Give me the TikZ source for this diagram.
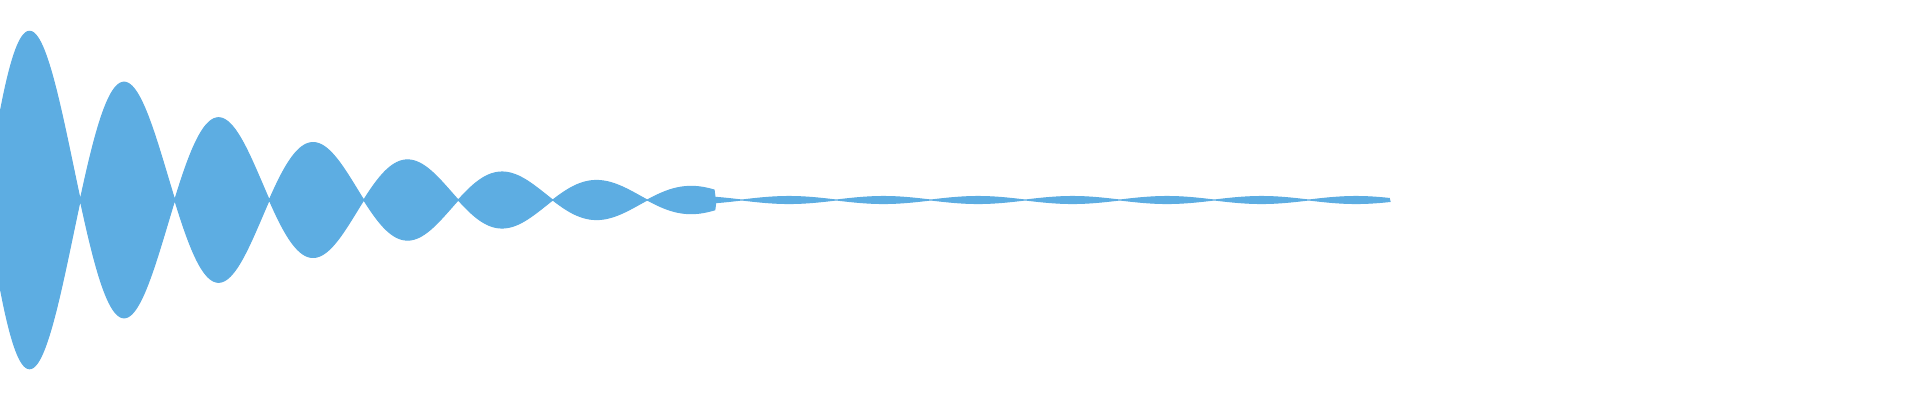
\documentclass[tikz,border=0pt]{standalone}
\usepackage{tikz}
\usetikzlibrary{calc}
\definecolor{wavecol}{RGB}{93,173,226}

\begin{document}
\begin{tikzpicture}[x=1cm, y=1cm,
    wave/.style={fill=wavecol, draw=wavecol, line width=0.3pt},
    declare function={env(\t)=(\t<7.15)*1.9*exp(-0.38*\t)+(\t>=7.15)*0.035;
                      lobe(\t)=env(\t)*abs(cos(9.5238*(\t-0.33)*100/5));}]
    % frame
    \useasboundingbox (0,0) rectangle (19.2,4);

    % decaying beat signal
    \fill[wave] plot[domain=0:13.9, samples=1500] (\x, {2+lobe(\x)})
        -- plot[domain=13.9:0, samples=1500] (\x, {2-lobe(\x)}) -- cycle;
\end{tikzpicture}
\end{document}
